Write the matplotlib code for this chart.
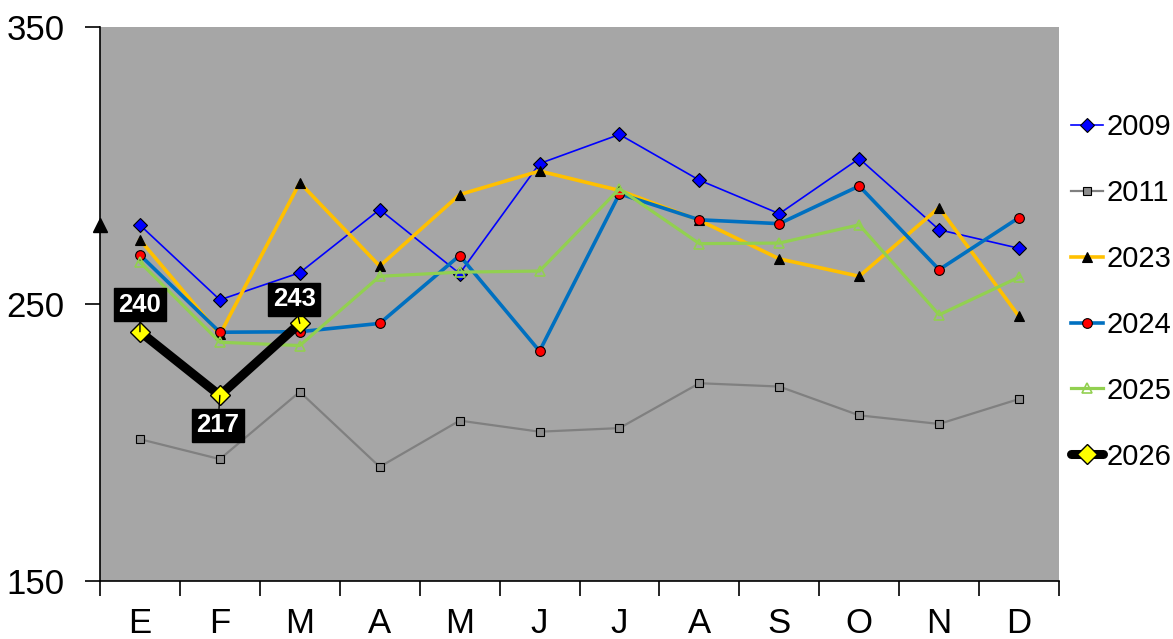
import matplotlib
matplotlib.use("Agg")
import matplotlib.pyplot as plt
from matplotlib.ticker import FixedLocator

plt.rcParams['font.family'] = ['Liberation Sans', 'DejaVu Sans']

months = ["E", "F", "M", "A", "M", "J", "J", "A", "S", "O", "N", "D"]
s2009 = [278.5, 251.5, 261.3, 284.1, 261.0, 300.7, 311.2, 294.7, 282.6, 302.5, 276.8, 270.1]
s2011 = [201.2, 194.0, 218.3, 191.2, 207.9, 203.9, 205.2, 221.4, 220.2, 209.8, 206.7, 215.7]
s2023 = [273.2, 239.0, 293.8, 263.7, 289.5, 298.0, 291.0, 280.2, 266.3, 260.0, 284.8, 245.5]
s2024 = [267.7, 239.8, 240.0, 243.0, 267.5, 233.0, 289.8, 280.4, 279.0, 292.6, 262.4, 281.2]
s2025 = [265.1, 236.2, 235.0, 260.0, 261.5, 261.9, 291.6, 271.8, 272.0, 278.6, 246.1, 259.7]
s2026 = [240, 217, 243]
labels_2026 = ["240", "217", "243"]
stray_triangle_value = 278.6

W, H = 1173, 639
fig = plt.figure(figsize=(W / 100, H / 100), dpi=100)
ax = fig.add_axes([100 / W, 1 - 581 / H, (1059 - 100) / W, (581 - 27) / H])
ax.set_facecolor("#A6A6A6")

x = list(range(len(months)))
ax.plot(x, s2009, color="#0000FF", lw=1.2, marker="D", ms=7, mfc="#0000FF", mec="black", mew=0.8, label="2009", zorder=3)
ax.plot(x, s2011, color="#808080", lw=1.6, marker="s", ms=5.5, mfc="#8C8C8C", mec="black", mew=0.8, label="2011", zorder=3)
ax.plot(x, s2023, color="#FFC000", lw=2.6, marker="^", ms=7.5, mfc="black", mec="black", mew=0.8, label="2023", zorder=4)
ax.plot(x, s2024, color="#0070C0", lw=2.6, marker="o", ms=7, mfc="#FF0000", mec="black", mew=0.8, label="2024", zorder=5)
ax.plot(x, s2025, color="#92D050", lw=2.3, marker="^", ms=7, mfc="none", mec="#92D050", mew=1.2, label="2025", zorder=6)
ax.plot(x[:len(s2026)], s2026, color="black", lw=6.5, marker="D", ms=10, mfc="#FFFF00", mec="black", mew=1.0,
        label="2026", zorder=7, solid_capstyle="round")

# stray marker at left edge
ax.plot([-0.5], [stray_triangle_value], marker="^", ms=10, color="black", clip_on=False, zorder=8)

# data labels for 2026
offsets = [(0, 27), (-2, -30), (-5.5, 24)]
for i, (v, t) in enumerate(zip(s2026, labels_2026)):
    dx, dy = offsets[i]
    ax.annotate(t, (x[i], v), xytext=(dx / 1.389, dy / 1.389), textcoords="offset points",
                ha="center", va="center", color="white", fontsize=18.5, fontweight="bold",
                bbox=dict(boxstyle="square,pad=0.17", fc="black", ec="black"),
                arrowprops=dict(arrowstyle="-", color="black", lw=1, shrinkA=0, shrinkB=0),
                zorder=9)

ax.set_xlim(-0.5, 11.5)
ax.set_ylim(150, 350)
ax.set_yticks([150, 250, 350])
ax.set_xticks(x)
ax.set_xticklabels(months)
ax.xaxis.set_minor_locator(FixedLocator([i - 0.5 for i in range(13)]))
ax.tick_params(axis="x", which="major", length=0, labelsize=25, pad=19)
ax.tick_params(axis="x", which="minor", length=10.5, width=1.2, direction="out")
ax.tick_params(axis="y", which="major", length=10.5, width=1.2, direction="out", labelsize=25, pad=15)
for s in ["top", "right"]:
    ax.spines[s].set_visible(False)
for s in ["left", "bottom"]:
    ax.spines[s].set_color("black")
    ax.spines[s].set_linewidth(1.2)

fig.legend(loc="upper left", bbox_to_anchor=(1071 / W, 1 - 113 / H), frameon=False, fontsize=21,
           handlelength=1.1, handletextpad=0.1, labelspacing=1.3, borderaxespad=0, borderpad=0)

fig.savefig("out.png", dpi=100, facecolor="white")
